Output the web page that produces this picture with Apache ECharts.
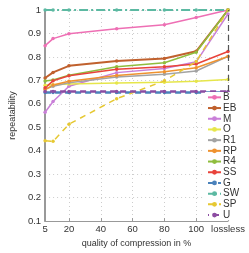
<!DOCTYPE html>
<html><head><meta charset="utf-8">
<script src="https://cdn.jsdelivr.net/npm/echarts@6/dist/echarts.min.js"></script>
<style>html,body{margin:0;padding:0;background:#fff}#c{width:249px;height:253px}</style>
</head><body><div id="c"></div>
<script>
const xValues = [5, 10, 20, 50, 80, 100, 120];
const xTickLabels = [5, 20, 40, 60, 80, 100, 120];
const seriesNames = ['B','EB','M','O','R1','RP','R4','SS','G','SW','SP','U'];
const B  = [0.848, 0.878, 0.899, 0.920, 0.937, 0.968, 1.000];
const EB = [0.710, 0.734, 0.762, 0.783, 0.793, 0.824, 1.000];
const M  = [0.564, 0.610, 0.675, 0.733, 0.751, 0.779, 0.983];
const O  = [0.679, 0.681, 0.684, 0.689, 0.692, 0.696, 0.704];
const R1 = [0.663, 0.675, 0.690, 0.714, 0.726, 0.740, 0.802];
const RP = [0.660, 0.680, 0.696, 0.721, 0.737, 0.754, 0.802];
const R4 = [0.697, 0.702, 0.722, 0.758, 0.775, 0.820, 1.000];
const SS = [0.668, 0.698, 0.720, 0.747, 0.758, 0.770, 0.823];
const G  = [0.648, 0.648, 0.648, 0.648, 0.648, 0.648, 0.648];
const SW = [1.000, 1.000, 1.000, 1.000, 1.000, 1.000, 1.000];
const SP = [0.443, 0.440, 0.513, 0.622, 0.698, 0.780, 1.000];
const U  = [0.653, 0.653, 0.653, 0.653, 0.653, 0.653, 0.653];
const allData = [B, EB, M, O, R1, RP, R4, SS, G, SW, SP, U];
const colors = ['#ee6fb4','#c0612e','#c97fd8','#e6e64a','#a3a3a3','#ef922f','#8fbd3d','#e8433b','#4a82bb','#5cb9a2','#e6c832','#8c4da2'];
const lineTypes = ['solid','solid','solid','solid','solid','solid','solid','solid',[6,4],[9,3,2,3],[6,5],[6,4]];
const widths = [1.5,2,1.5,1.5,1.5,1.5,1.5,1.5,2.5,2,1.5,2.5];
const FONT = 'Liberation Sans';

const series = seriesNames.map((n, i) => ({
  name: n, type: 'line', data: xValues.map((x, j) => [x, allData[i][j]]),
  symbol: 'circle', symbolSize: 3.5, showSymbol: true,
  itemStyle: {color: colors[i]},
  lineStyle: {color: colors[i], width: widths[i], type: lineTypes[i], dashOffset: n === 'U' ? 5 : 0},
  emphasis: {disabled: true}, animation: false, z: 3
}));
series.push({
  type: 'line', data: [], silent: true, animation: false,
  markLine: {symbol: 'none', silent: true, animation: false, label: {show: false},
    lineStyle: {color: '#555', type: [6,4], width: 1.2},
    data: [{xAxis: 120}]}
});

const chart = echarts.init(document.getElementById('c'));
chart.setOption({
  animation: false,
  grid: {left: 31, right: 21, top: 10, bottom: 25},
  legend: {
    data: seriesNames, orient: 'vertical', left: 205, top: 92, padding: [0,2,0,2],
    itemWidth: 13, itemHeight: 6, itemGap: 0,
    textStyle: {fontSize: 10, lineHeight: 10.7, height: 10.7, color: '#333', fontFamily: FONT, padding: [0,0,0,-3]},
    backgroundColor: '#fff', z: 10
  },
  xAxis: {
    type: 'value', min: 5, max: 120,
    name: 'quality of compression in %', nameLocation: 'middle', nameGap: 14,
    nameTextStyle: {fontSize: 9, color: '#333', fontFamily: FONT},
    axisLine: {lineStyle: {color: '#999'}},
    axisTick: {inside: true, length: 3, lineStyle: {color: '#999'}, customValues: [20,40,60,80,100,120]},
    axisLabel: {customValues: xTickLabels, fontSize: 9.5, color: '#333', fontFamily: FONT, margin: 3, hideOverlap: false,
      formatter: v => v === 120 ? 'lossless' : String(v)},
    splitLine: {show: true, lineStyle: {color: '#ccc', type: [1,3]}}
  },
  yAxis: {
    type: 'value', min: 0.1, max: 1, interval: 0.1,
    name: 'repeatability', nameLocation: 'middle', nameGap: 21,
    nameTextStyle: {fontSize: 9, color: '#333', fontFamily: FONT},
    axisLine: {show: true, lineStyle: {color: '#999', width: 2}},
    axisTick: {show: false},
    axisLabel: {fontSize: 9.5, color: '#333', fontFamily: FONT, margin: 4},
    splitLine: {show: true, lineStyle: {color: '#ccc', type: [1,3]}}
  },
  series: series
});
</script></body></html>
